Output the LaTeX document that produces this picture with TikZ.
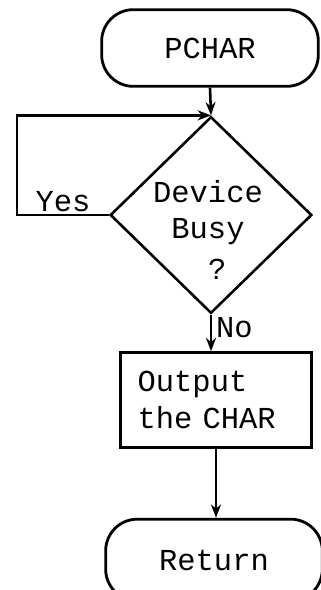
\documentclass[tikz,border=0pt]{standalone}
\usepackage{fontspec}
\setmonofont{Liberation Mono}
\usetikzlibrary{arrows.meta,shapes.geometric}

\tikzset{
  terminal/.style={draw,line width=2.4pt,rounded corners=0.95cm,minimum width=6.5cm,minimum height=2.3cm},
  decision/.style={draw,line width=2.2pt,diamond,aspect=1,inner sep=0pt,minimum width=6.05cm,minimum height=5.9cm},
  process/.style={draw,line width=2.2pt,align=left,minimum width=5.73cm,minimum height=2.85cm},
  flowline/.style={->,line width=2.2pt},
  flowtext/.style={font=\fontsize{26}{31}\ttfamily}
}

\begin{document}
\begin{tikzpicture}[x=0.03cm,y=-0.03cm,>={Stealth[length=4mm,width=3mm]}]
\useasboundingbox (0,0) rectangle (321,590);
\node[terminal,flowtext] (pchar) at (210,48) {PCHAR};
\node[decision] (busy) at (211,215) {};
\node[flowtext,align=center] (busytext) at (208,230) {Device\\Busy\\[4pt]\ ?};
\node[process,flowtext,text width=4.7cm] (output) at (216,400) {Output\\the CHAR};
\node[terminal,flowtext,minimum height=2.45cm] (return) at (214,560) {Return};
\coordinate (loop) at (17,215);
% connectors
\draw[flowline] (pchar.south) -- (busy.north);
\draw[flowline] (busy.west) -- node[flowtext,above,inner sep=2pt]{Yes} (loop) |- (busy.north);
\draw[flowline] (busy.south) -- node[flowtext,pos=0.35,right]{No} (busy.south |- output.north);
\draw[flowline] (output.south) -- (output.south |- return.north);
\end{tikzpicture}
\end{document}
